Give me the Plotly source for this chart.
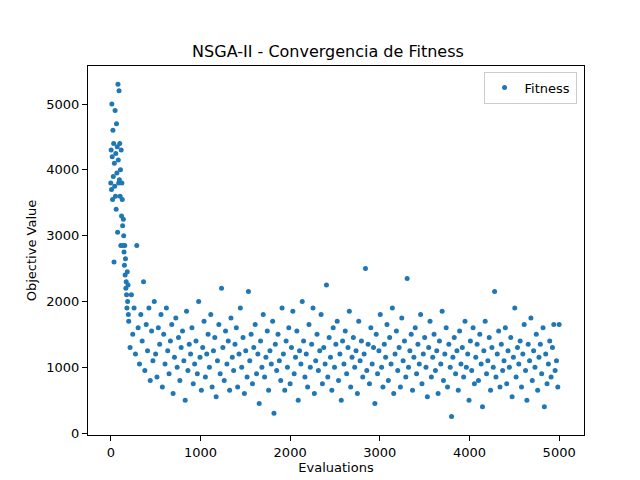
import plotly.graph_objects as go

# early evaluations (dense phase)
early_evals = [i * 4 for i in range(50)]
early_fitness = [
    3800, 4300, 3700, 5000, 4200, 3550, 4600, 3900, 4400, 2600,
    4100, 3750, 4900, 3600, 4250, 3400, 4700, 3950, 4350, 3050,
    5300, 4150, 3800, 5200, 3850, 4400, 3600, 4000, 2850, 4300,
    3300, 3800, 3550, 3150, 2850, 3250, 3000, 2750, 2550, 2850,
    2400, 2650, 2200, 2300, 2100, 1900, 2450, 2000, 2250, 1800,
]

late_fitness = [
    1700, 1300, 2100, 1500, 1900, 1200, 2850, 1600, 1050, 1800,
    1400, 2300, 950, 1650, 1250, 1900, 800, 1550, 1100, 2000,
    1200, 850, 1600, 1350, 1800, 700, 1500, 1050, 1900, 1250,
    900, 1400, 1650, 600, 1150, 1750, 1000, 1450, 800, 1300,
    1550, 1100, 500, 1850, 950, 1350, 1200, 1600, 750, 1050,
    1400, 900, 2000, 1150, 650, 1300, 1700, 850, 1200, 1500,
    1000, 1800, 700, 1250, 1450, 550, 1100, 1650, 900, 2200,
    1300, 800, 1550, 1050, 1400, 650, 1750, 1150, 950, 1350,
    1600, 700, 1200, 1900, 1000, 1450, 600, 1250, 850, 2150,
    1100, 1500, 750, 1300, 1650, 900, 1200, 450, 1400, 1000,
    1800, 850, 1150, 1550, 650, 1250, 1050, 1700, 300, 1350,
    950, 1500, 1100, 800, 1900, 1200, 650, 1400, 1000, 1600,
    750, 1300, 1850, 900, 1150, 1550, 500, 1250, 1050, 2000,
    1400, 850, 1200, 700, 1650, 1000, 1350, 1900, 600, 1100,
    1500, 950, 1250, 1800, 750, 1300, 1050, 2250, 850, 1450,
    1150, 650, 1600, 1000, 1350, 1700, 800, 1200, 500, 1400,
    1050, 1550, 900, 1300, 1850, 700, 1150, 1450, 1000, 1250,
    600, 1700, 1100, 1400, 850, 1200, 2500, 950, 1350, 750,
    1600, 1050, 1300, 450, 1500, 900, 1250, 1800, 1000, 700,
    1350, 1150, 1650, 800, 1450, 1050, 1900, 600, 1200, 1550,
    950, 1300, 700, 1750, 1100, 1400, 850, 2350, 1000, 1250,
    1500, 650, 1150, 1600, 900, 1350, 1050, 1800, 750, 1200,
    1450, 1000, 550, 1300, 1700, 850, 1150, 1500, 950, 1250,
    600, 1400, 1050, 1850, 800, 1200, 1600, 700, 1350, 1000,
    250, 1150, 1450, 900, 1250, 650, 1550, 1050, 1300, 850,
    1700, 1000, 1200, 500, 1400, 950, 1600, 750, 1150, 1350,
    800, 1500, 1050, 400, 1250, 1700, 900, 1100, 1450, 650,
    1300, 1000, 2150, 850, 1200, 1550, 700, 1350, 950, 1100,
    1600, 750, 1250, 1000, 1450, 550, 1150, 1900, 850, 1300,
    1050, 1400, 700, 1200, 1650, 950, 500, 1350, 1100, 1750,
    800, 1250, 1000, 1500, 650, 1150, 1350, 900, 1600, 400,
    1200, 750, 1050, 1400, 850, 1300, 1650, 950, 1100, 700,
    1650,
]
late_evals = [200 + 15 * i for i in range(len(late_fitness))]

evaluations = early_evals + late_evals
fitness = early_fitness + late_fitness

fig = go.Figure()
fig.add_trace(go.Scatter(
    x=evaluations, y=fitness, mode="markers", name="Fitness",
    marker=dict(color="#1f77b4", size=5),
))

axis = dict(showline=True, linecolor="black", mirror=True, ticks="outside",
            ticklen=5, tickcolor="black", showgrid=False, zeroline=False,
            tickfont=dict(size=13, color="black"), dtick=1000, automargin=False)
fig.update_layout(
    width=640, height=480,
    margin=dict(l=80, r=64, t=58, b=53, autoexpand=False),
    paper_bgcolor="white", plot_bgcolor="white",
    font=dict(family="DejaVu Sans", color="black"),
    title=dict(text="NSGA-II - Convergencia de Fitness", x=0.5, xanchor="center",
               y=0.91, yanchor="middle", font=dict(size=16)),
    xaxis=dict(axis, range=[-254, 5277],
               title=dict(text="Evaluations", font=dict(size=13), standoff=4)),
    yaxis=dict(axis, range=[-30, 5578],
               title=dict(text="Objective Value", font=dict(size=13), standoff=6)),
    showlegend=True,
    legend=dict(x=0.985, y=0.985, xanchor="right", yanchor="top",
                bordercolor="#cccccc", borderwidth=1, font=dict(size=13)),
)

fig.write_html("out.html")
